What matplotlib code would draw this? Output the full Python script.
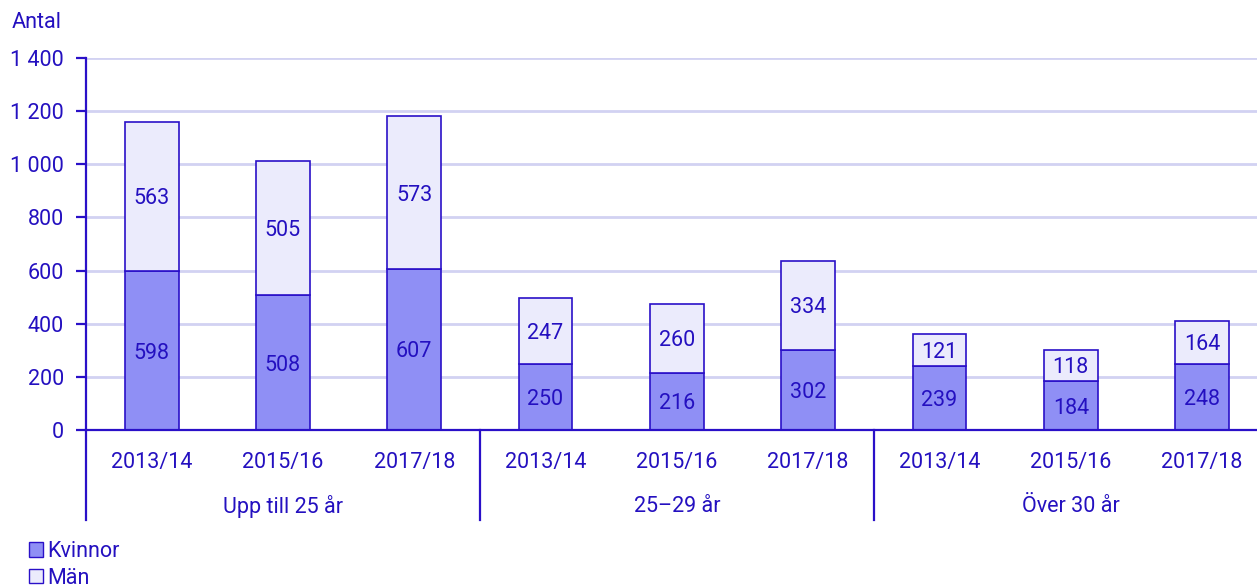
import numpy as np
import matplotlib.pyplot as plt
from matplotlib.patches import Patch
from matplotlib.transforms import blended_transform_factory

plt.rcParams['font.family'] = ['Roboto', 'DejaVu Sans']

# data
groups = ['Upp till 25 år', '25\u201329 år', 'Över 30 år']
years = ['2013/14', '2015/16', '2017/18']
kvinnor = [598, 508, 607, 250, 216, 302, 239, 184, 248]
man = [563, 505, 573, 247, 260, 334, 121, 118, 164]

txt = '#2410c0'
edge = '#2a10c8'
c_kv = '#8f8ff5'
c_man = '#ebebfc'
grid = '#d2d2f2'
fs = 15.5

fig = plt.figure(figsize=(12.57, 5.86), dpi=100)
ax = fig.add_axes([86/1257, 156/586, 1 - 86/1257, 372/586])

x = np.arange(len(kvinnor))
w = 0.41
ax.bar(x, kvinnor, w, color=c_kv, edgecolor=edge, linewidth=1.2, zorder=3, label='Kvinnor')
ax.bar(x, man, w, bottom=kvinnor, color=c_man, edgecolor=edge, linewidth=1.2, zorder=3, label='Män')

for i in range(len(x)):
    ax.text(x[i], kvinnor[i] / 2, str(kvinnor[i]), ha='center', va='center_baseline', color=txt, fontsize=fs, zorder=4)
    ax.text(x[i], kvinnor[i] + man[i] / 2, str(man[i]), ha='center', va='center_baseline', color=txt, fontsize=fs, zorder=4)

# the category slots run a little past the right edge of the figure
slot = 131.3
ax.set_xlim(-0.5, (1257 - 86) / slot - 0.5)
ax.set_ylim(0, 1400)
yt = np.arange(0, 1401, 200)
ax.set_yticks(yt)
ax.set_yticklabels(['{:,}'.format(v).replace(',', ' ') for v in yt])
for v in yt[1:]:
    ax.axhline(v, color=grid, lw=2, zorder=1)

for s in ['top', 'right']:
    ax.spines[s].set_visible(False)
ax.spines['left'].set_color(edge)
ax.spines['left'].set_linewidth(1.6)
ax.spines['left'].set_bounds(0, 1400)
ax.spines['bottom'].set_color(edge)
ax.spines['bottom'].set_linewidth(1.6)
ax.spines['bottom'].set_zorder(5)

ax.tick_params(axis='y', colors=edge, labelcolor=txt, labelsize=fs, length=7, width=1.6, pad=9)
ax.tick_params(axis='x', length=0, pad=0)
ax.set_xticks([])

tr = blended_transform_factory(ax.transData, ax.transAxes)
for i in range(len(x)):
    ax.text(x[i], -0.08, years[i % 3], ha='center', va='center_baseline', color=txt, fontsize=fs, transform=tr)
for g in range(3):
    ax.text(g * 3 + 1, -0.2, groups[g], ha='center', va='center_baseline', color=txt, fontsize=fs, transform=tr)
for sep in [-0.5, 2.5, 5.5]:
    ax.plot([sep, sep], [0, -0.242], color=edge, lw=1.6, transform=tr, clip_on=False)

fig.text(12/1257, 1 - 22/586, 'Antal', color=txt, fontsize=fs, va='center', ha='left')

handles = [Patch(facecolor=c_kv, edgecolor=edge, label='Kvinnor'),
           Patch(facecolor=c_man, edgecolor=edge, label='Män')]
fig.legend(handles=handles, loc='lower left', bbox_to_anchor=(0.011, -0.03), frameon=False,
           handlelength=0.65, handleheight=0.65, handletextpad=0.2, labelspacing=0.25,
           fontsize=fs, labelcolor=txt, borderaxespad=0.3)

fig.savefig('out.png', dpi=100)
